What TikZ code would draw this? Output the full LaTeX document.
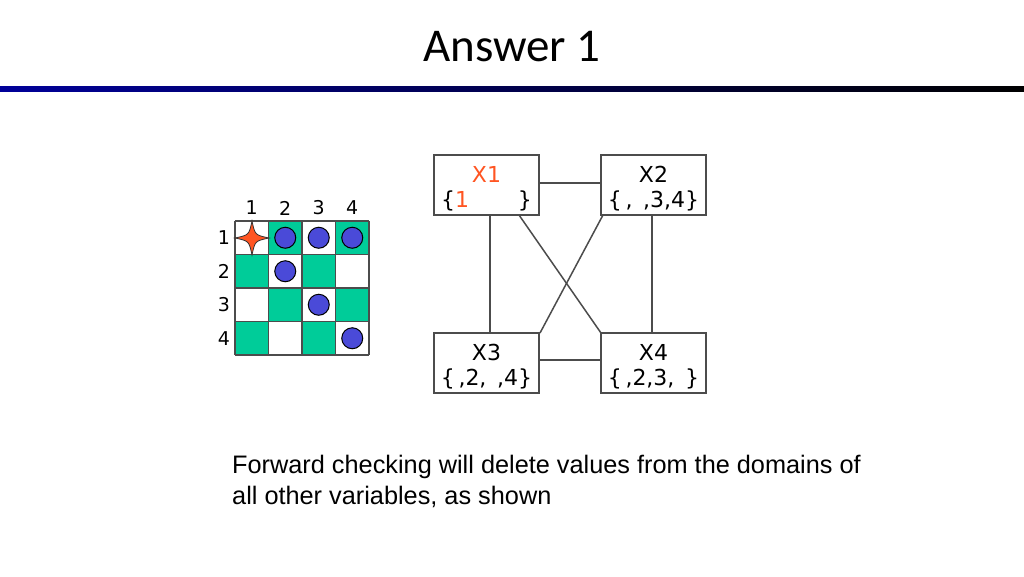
\documentclass[tikz,border=0pt]{standalone}
\usepackage{fontspec}
\setmainfont{Liberation Sans}
\newfontfamily\titlefont{Carlito}
\newfontfamily\boxfont{DejaVu Sans}
\begin{document}
\begin{tikzpicture}[x=1pt,y=-1pt,
  var/.style={draw=black!70,line width=1.5pt,fill=white,minimum width=105pt,minimum height=60pt,inner sep=0pt},
  edge/.style={draw=black!70,line width=1.5pt},
  dot/.style={circle,draw=black,line width=1pt,minimum size=21pt,inner sep=0pt}]
\useasboundingbox (0,0) rectangle (1024,576);
\definecolor{tl}{HTML}{00CC99}
\definecolor{qb}{HTML}{4A4AD8}
\definecolor{xr}{HTML}{FF5522}
\node[font=\titlefont\fontsize{47}{50}\selectfont] (title) at (512,47) {Answer 1};
\shade[left color=blue!60!black,right color=black] (0,86) rectangle (1024,91);
% board
\foreach \r in {1,...,4}{\foreach \c in {1,...,4}{
  \pgfmathtruncatemacro\od{mod(\r+\c,2)}
  \ifnum\od=1 \fill[tl] ({235+(\c-1)*33.5},{221+(\r-1)*33.5}) rectangle ++(33.5,33.5);\fi
}}
\foreach \i in {0,...,4}{
  \draw[line width=1.5pt,black!70] ({235+\i*33.5},221) -- ({235+\i*33.5},355);
  \draw[line width=1.5pt,black!70] (235,{221+\i*33.5}) -- (369,{221+\i*33.5});}
\foreach \c in {1,...,4}{\node[font=\boxfont\fontsize{19}{19}\selectfont] (col\c) at ({251.75+(\c-1)*33.5},208) {\c};
  \node[font=\boxfont\fontsize{19}{19}\selectfont] (row\c) at (224,{237.75+(\c-1)*33.5}) {\c};}
\foreach \r/\c in {1/2,1/3,1/4,2/2,3/3,4/4}{\node[dot,fill=qb] (q\r\c) at ({251.75+(\c-1)*33.5},{237.75+(\r-1)*33.5}) {};}
\begin{scope}[shift={(252,238)}]
\filldraw[fill=xr,draw=black!80,line width=0.8pt] (-17,0) .. controls (-3,-3) .. (0,-17) .. controls (3,-3) .. (17,0) .. controls (3,3) .. (0,17) .. controls (-3,3) .. (-17,0) -- cycle;
\end{scope}
% graph
\node[var] (x1) at (486.5,185) {};
\node[var] (x2) at (653.5,185) {};
\node[var] (x3) at (486.5,363) {};
\node[var] (x4) at (653.5,363) {};
\draw[edge] (x1.east |- 0,183) -- (x2.west |- 0,183);
\draw[edge] (x3.east |- 0,360) -- (x4.west |- 0,360);
\draw[edge] (490,215) -- (490,333);
\draw[edge] (652,215) -- (652,333);
\draw[edge] (519,215) -- (601,333);
\draw[edge] (603,215) -- (540,333);
\begin{scope}[every node/.style={font=\boxfont\fontsize{22}{22}\selectfont}]
\node[text=xr] (l1) at (486.5,174) {X1};
\node (d1) at (486.5,201) {\{{\color{xr}1}\phantom{,2,3,}\}};
\node (l2) at (653.5,174) {X2};
\node (d2) at (653.5,201) {\{\,,\ \,,3,4\}};
\node (l3) at (486.5,352) {X3};
\node (d3) at (486.5,379) {\{\,,2,\ \,,4\}};
\node (l4) at (653.5,352) {X4};
\node (d4) at (653.5,379) {\{\,,2,3,\ \,\}};
\end{scope}
\node[anchor=north west,align=left,font=\fontsize{25.3}{31}\selectfont,inner sep=0pt] (txt) at (232,455) {Forward checking will delete values from the domains of\\all other variables, as shown};
\end{tikzpicture}
\end{document}
